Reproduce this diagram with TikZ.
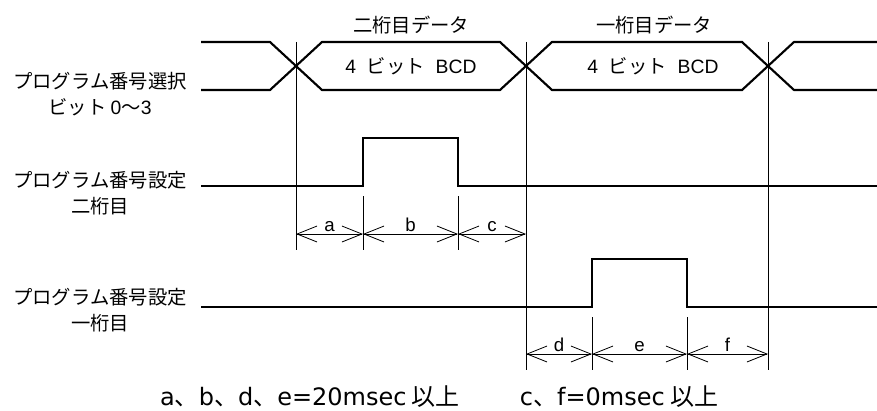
\documentclass[tikz,border=0pt]{standalone}
\usepackage{fontspec}
\usepackage{tikz}
\usetikzlibrary{arrows.meta, positioning}
\setmainfont{Noto Sans CJK JP}
\newfontfamily\arialtext{Liberation Sans}
\newfontfamily\verdtext{DejaVu Sans}
\definecolor{WireBlack}{HTML}{000000}

\begin{document}
\begin{tikzpicture}[x=0.75pt, y=-0.75pt,
  wave/.style={WireBlack, line width=1.6pt, line join=miter},
  guide/.style={WireBlack, line width=0.6pt},
  dimline/.style={WireBlack, line width=0.6pt,
    {Straight Barb[length=15pt,width=12pt]}-{Straight Barb[length=15pt,width=12pt]}},
  dimlabel/.style={above, inner sep=1.5pt, font=\arialtext\fontsize{14}{14}\selectfont},
  siglabel/.style={align=center, inner sep=0pt, font=\fontsize{14.5}{20}\selectfont},
  datatext/.style={inner sep=0pt, font=\fontsize{14.5}{16}\selectfont},
  notetext/.style={inner sep=0pt, font=\fontsize{18}{19}\selectfont}]
  \useasboundingbox (0,0) rectangle (877,410);

  % Signal names
  \node[siglabel] (lblSel) at (100,94) {プログラム番号選択\\ビット {\arialtext 0}〜{\arialtext 3}};
  \node[siglabel] (lblTwo) at (100,193) {プログラム番号設定\\二桁目};
  \node[siglabel] (lblOne) at (100,310) {プログラム番号設定\\一桁目};

  % Data bus
  \draw[wave] (201,42) -- (270,42) -- (322,90) -- (500,90) -- (552,42)
    -- (742,42) -- (794,90) -- (877,90);
  \draw[wave] (201,90) -- (270,90) -- (322,42) -- (500,42) -- (552,90)
    -- (742,90) -- (794,42) -- (877,42);
  \node[datatext] (hdTwo) at (411,25) {二桁目データ};
  \node[datatext] (hdOne) at (654,25) {一桁目データ};
  \node[datatext] (bcdTwo) at (411,66) {{\arialtext 4\ \ }ビット{\arialtext\ \ BCD}};
  \node[datatext] (bcdOne) at (653,66) {{\arialtext 4\ \ }ビット{\arialtext\ \ BCD}};

  % Strobe pulses
  \draw[wave] (201,186) -- (363,186) -- (363,138) -- (458,138) -- (458,186) -- (877,186);
  \draw[wave] (201,307) -- (592,307) -- (592,259) -- (687,259) -- (687,307) -- (877,307);

  % Guide lines
  \draw[guide] (296,42) -- (296,250);
  \draw[guide] (526,42) -- (526,370);
  \draw[guide] (768,42) -- (768,370);
  \foreach \x in {363, 458}
    \draw[guide] (\x,196) -- (\x,250);
  \foreach \x in {592, 687}
    \draw[guide] (\x,317) -- (\x,370);

  % Timing marks
  \foreach \n/\x in {ta/296, tb/363, tc/458, td/526}
    \coordinate (\n) at (\x,234);
  \foreach \n/\x in {te/526, tf/592, tg/687, th/768}
    \coordinate (\n) at (\x,354);
  \draw[dimline] (ta) -- node[dimlabel] {a} (tb);
  \draw[dimline] (tb) -- node[dimlabel] {b} (tc);
  \draw[dimline] (tc) -- node[dimlabel] {c} (td);
  \draw[dimline] (te) -- node[dimlabel] {d} (tf);
  \draw[dimline] (tf) -- node[dimlabel] {e} (tg);
  \draw[dimline] (tg) -- node[dimlabel] {f} (th);

  % Notes
  \node[notetext] (noteAB) at (310,397)
    {{\verdtext a}、{\verdtext b}、{\verdtext d}、{\verdtext e=20msec} 以上};
  \node[notetext] (noteCF) at (619,397)
    {{\verdtext c}、{\verdtext f=0msec} 以上};
\end{tikzpicture}
\end{document}
